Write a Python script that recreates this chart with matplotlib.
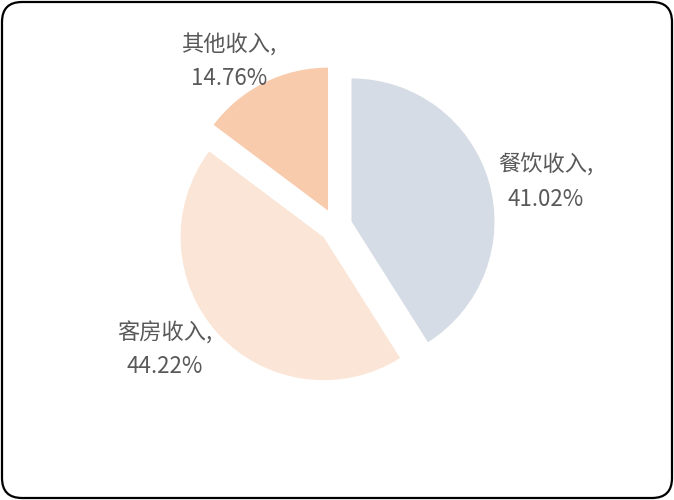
import matplotlib
matplotlib.use("Agg")
import matplotlib.pyplot as plt
from matplotlib.patches import FancyBboxPatch

categories = ["餐饮收入", "客房收入", "其他收入"]
values = [41.02, 44.22, 14.76]
colors = ["#D6DCE5", "#FBE5D6", "#F8CBAD"]

plt.rcParams['font.family'] = ['Noto Sans CJK SC', 'DejaVu Sans']

W, H = 674, 500
fig = plt.figure(figsize=(W / 100, H / 100), dpi=100)

# pie geometry in pixels
cx, cy = 335.7, 500 - 226.0
R = 143.0
k = 1.6
size = 2 * R * k
ax = fig.add_axes([(cx - size / 2) / W, (cy - size / 2) / H, size / W, size / H])
ax.pie(values, colors=colors, startangle=90, counterclock=False,
       explode=[0.115, 0.115, 0.12], radius=1.0,
       wedgeprops=dict(linewidth=0))
ax.set_xlim(-k, k)
ax.set_ylim(-k, k)
ax.set_aspect('equal')
ax.axis('off')

# label positions (pixel centers, top-origin)
label_pos = [(546, 182), (165, 350), (229, 62)]
for cat, v, (px, py) in zip(categories, values, label_pos):
    fig.text(px / W, 1 - py / H, f"{cat},\n{v:.2f}%", ha='center', va='center',
             fontsize=16, color='#595959', linespacing=1.6, fontweight='light')

border = FancyBboxPatch((2, 2), W - 4, H - 4,
                        boxstyle="round,pad=0,rounding_size=20",
                        transform=None, facecolor='none', edgecolor='black',
                        linewidth=1.6)
fig.add_artist(border)

fig.savefig("out.png", dpi=100)
